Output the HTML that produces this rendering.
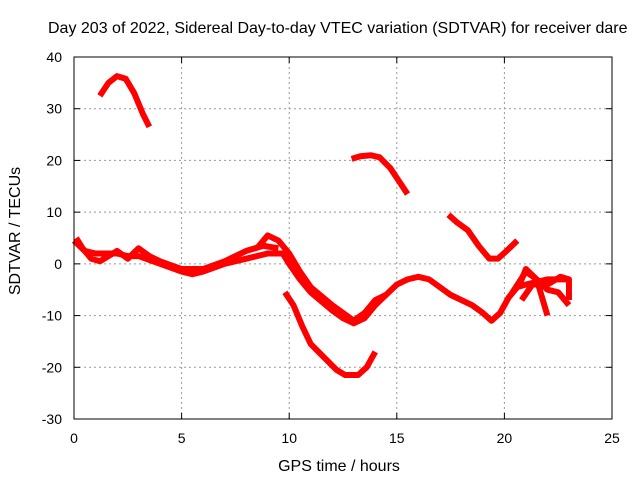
<!DOCTYPE html>
<html><head><meta charset="utf-8"><style>
body{margin:0;background:#fff;width:640px;height:480px;overflow:hidden}
text{font-family:"Liberation Sans",sans-serif;font-size:14px;fill:#000}
</style></head><body>
<svg width="640" height="480">
<text x="48" y="33" style="font-size:16px">Day 203 of 2022, Sidereal Day-to-day VTEC variation (SDTVAR) for receiver dare</text>
<g id="grid"></g>
<g id="series"></g>
<rect x="74" y="57" width="538" height="362" fill="none" stroke="#000"/>
<g id="ticks"></g>
<text x="339" y="471" text-anchor="middle" style="font-size:16px">GPS time / hours</text>
<text transform="translate(20,231) rotate(-90)" text-anchor="middle" style="font-size:16px">SDTVAR / TECUs</text>
</svg>
<script>
const xTicks=[0,5,10,15,20,25];
const yTicks=[-30,-20,-10,0,10,20,30,40];
const seriesA=[[1.2,32.5],[1.6,35],[2.0,36.3],[2.4,35.8],[2.8,33],[3.2,29],[3.5,26.5]];
const seriesB=[[12.9,20.3],[13.3,20.8],[13.8,21],[14.2,20.6],[14.7,18.5],[15.1,16],[15.5,13.5]];
const seriesC=[[17.4,9.5],[17.8,8],[18.3,6.5],[18.8,3.5],[19.3,1],[19.7,1],[20.1,2.5],[20.6,4.5]];
const seriesD=[[9.8,-5.5],[10.2,-8],[10.6,-12],[11,-15.5],[11.6,-18],[12.2,-20.5],[12.6,-21.5],[13.2,-21.5],[13.6,-20],[14,-17]];
const seriesE=[[0,4.5],[0.5,2.5],[1,2],[2,2],[2.5,1.5],[3,1.5],[4,0],[5,-1.5],[5.5,-2],[6,-1.5],[7,0],[8,1],[9,2],[9.7,2],[10,0],[10.5,-3],[11,-5.5],[12,-9],[12.5,-10.5],[13,-11.5],[13.5,-10.5],[14,-8],[14.5,-6],[15,-4],[15.5,-3],[16,-2.5],[16.5,-3],[17,-4.5],[17.5,-6],[18,-7],[18.5,-8],[19,-9.5],[19.4,-11],[19.8,-9.5],[20.2,-6.5],[20.6,-4.5],[21,-4],[21.5,-3.5],[22,-3],[22.5,-3],[23,-3]];
const seriesF=[[0.1,5],[0.4,3],[0.8,1],[1.2,0.5],[2,2.5],[2.5,1],[3,3],[3.5,1.5],[4,0.5],[5,-1],[6,-1],[7,0.5],[8,2.5],[8.8,3.5],[9.5,3]];
const seriesG=[[8.5,3],[9,5.5],[9.5,4.5],[10,2],[10.5,-1.5],[11,-4.5],[12,-8],[13,-11],[13.5,-9.5],[14,-7],[14.5,-6]];
const seriesH=[[20.3,-6],[21,-1.5],[21.5,-3],[22,-10]];
const seriesI=[[20.7,-4],[21,-1],[21.5,-3],[22,-5],[22.5,-5.5],[23,-8]];
const seriesJ=[[20.8,-7],[21.3,-4],[22,-4],[22.6,-2.5],[23,-3],[23,-7]];
const allSeries=[seriesA,seriesB,seriesC,seriesD,seriesE,seriesF,seriesG,seriesH,seriesI,seriesJ];
const X=v=>74+v/25*538, Y=v=>419-(v+30)/70*362;
const NS='http://www.w3.org/2000/svg';
const grid=document.getElementById('grid'),ticks=document.getElementById('ticks'),sg=document.getElementById('series');
function mk(t,a,p){const e=document.createElementNS(NS,t);for(const k in a)e.setAttribute(k,a[k]);p.appendChild(e);return e;}
xTicks.forEach(t=>{
 if(t>0&&t<25){const l=mk('line',{x1:X(t),x2:X(t),y1:57,y2:419,stroke:'#999','stroke-dasharray':'2,3'},grid);
 
 }
 mk('line',{x1:X(t),x2:X(t),y1:419,y2:413,stroke:'#000'},ticks);
 mk('line',{x1:X(t),x2:X(t),y1:57,y2:63,stroke:'#000'},ticks);
 const tx=mk('text',{x:X(t),y:443,'text-anchor':'middle'},ticks);tx.textContent=t;
 
 
});
yTicks.forEach(t=>{
 if(t>-30&&t<40){const l=mk('line',{x1:74,x2:612,y1:Y(t),y2:Y(t),stroke:'#999','stroke-dasharray':'2,3'},grid);
 
 }
 mk('line',{x1:74,x2:80,y1:Y(t),y2:Y(t),stroke:'#000'},ticks);
 mk('line',{x1:606,x2:612,y1:Y(t),y2:Y(t),stroke:'#000'},ticks);
 const tx=mk('text',{x:62,y:Y(t)+5,'text-anchor':'end'},ticks);tx.textContent=t;
 
 
});
allSeries.forEach((s,i)=>{
 const p=mk('polyline',{points:s.map(d=>X(d[0])+','+Y(d[1])).join(' '),fill:'none',stroke:'#f00','stroke-width':6,'stroke-linejoin':'round'},sg);
 
 
});
</script>
</body></html>
